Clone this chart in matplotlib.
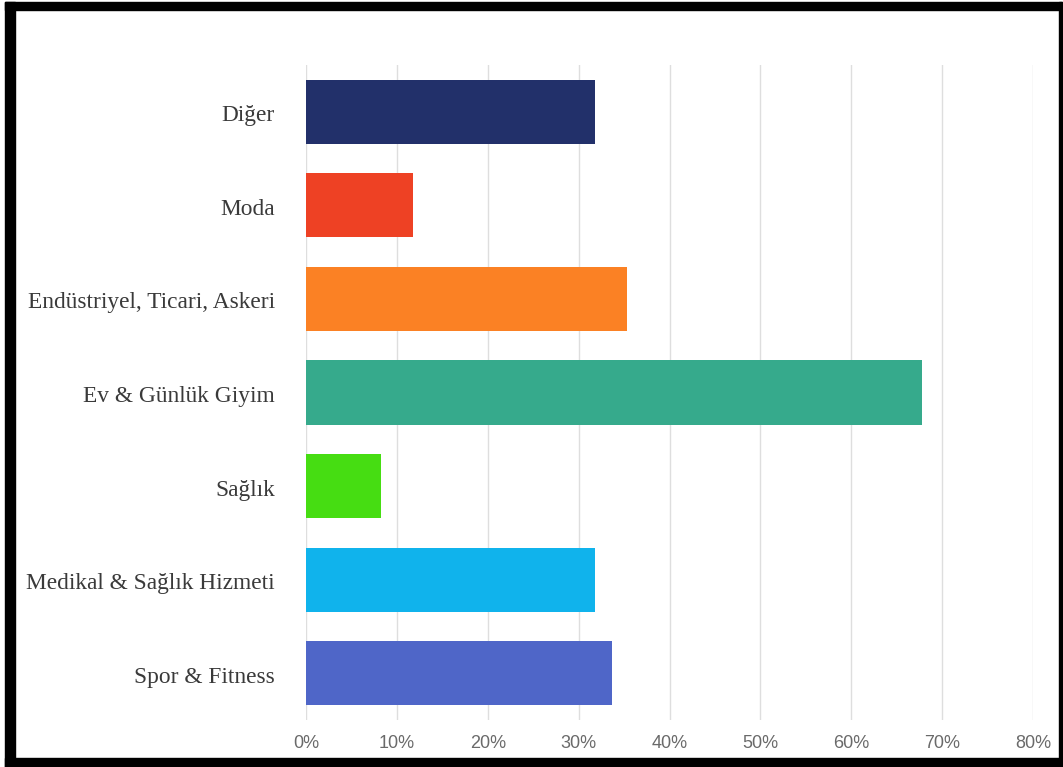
import matplotlib.pyplot as plt
import matplotlib.transforms as mtransforms
from matplotlib.patches import Rectangle
from matplotlib.ticker import FuncFormatter

categories = ["Diğer", "Moda", "Endüstriyel, Ticari, Askeri", "Ev & Günlük Giyim",
              "Sağlık", "Medikal & Sağlık Hizmeti", "Spor & Fitness"]
values = [31.8, 11.8, 35.3, 67.8, 8.3, 31.8, 33.7]
colors = ["#22306a", "#ee4124", "#fb8124", "#36aa8c", "#46dd12", "#10b3ec", "#4f66c8"]
x_ticks = [0, 10, 20, 30, 40, 50, 60, 70, 80]

W, H = 1063, 767
fig = plt.figure(figsize=(W / 100, H / 100), dpi=100)
ax = fig.add_axes([306 / W, 1 - 720 / H, 727 / W, 655 / H])

y = list(range(len(categories)))
ax.barh(y, values, height=0.685, color=colors, zorder=3)
ax.set_ylim(len(categories) - 0.5, -0.5)
ax.set_xlim(0, 80)
ax.set_yticks(y)
ax.set_yticklabels([])
# category labels, a little below the bar centres as in the original
lbl_trans = mtransforms.offset_copy(ax.get_yaxis_transform(), fig=fig, x=-31, y=-4, units="dots")
for yi, name in zip(y, categories):
    ax.text(0, yi, name, transform=lbl_trans, ha="right", va="center",
            family="Liberation Serif", fontsize=16.8, color="#3a3a3a")
ax.set_xticks(x_ticks)
ax.xaxis.set_major_formatter(FuncFormatter(lambda v, _: f"{v:.0f}%"))
for lbl in ax.get_xticklabels():
    lbl.set_family("Liberation Sans")
    lbl.set_fontsize(13)
    lbl.set_color("#6a6a6a")
ax.tick_params(axis="both", length=0)
ax.tick_params(axis="x", pad=11)
ax.grid(axis="x", color="#dedede", linewidth=1.0, zorder=0)
for s in ax.spines.values():
    s.set_visible(False)

# black frame around the image
def frame(x0, y0, x1, y1):
    fig.patches.append(Rectangle((x0 / W, 1 - y1 / H), (x1 - x0) / W, (y1 - y0) / H,
                                 transform=fig.transFigure, color="black", zorder=10))

frame(5, 2, 1062, 10)
frame(5, 2, 15, 767)
frame(1059, 2, 1062, 767)
frame(5, 758, 1063, 767)

fig.savefig("out.png", dpi=100)
